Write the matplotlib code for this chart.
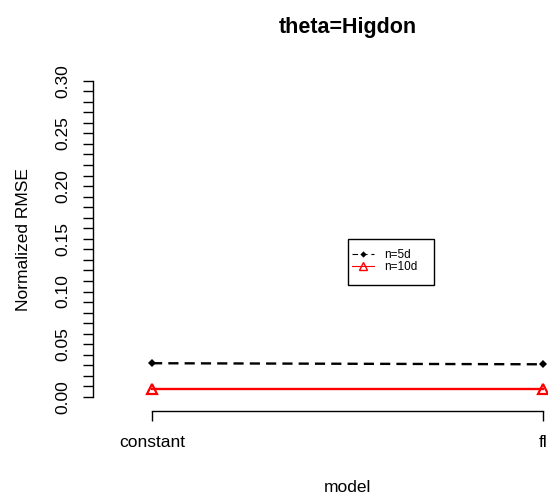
import numpy as np
import matplotlib
matplotlib.use("Agg")
import matplotlib.pyplot as plt
import matplotlib.transforms as mtransforms
from matplotlib.patches import Rectangle
from matplotlib.lines import Line2D

plt.rcParams['font.family'] = ['Liberation Sans', 'DejaVu Sans']

# Data
models = ["constant", "fl"]
rmse_n5d = [0.032, 0.031]
rmse_n10d = [0.008, 0.008]
series_labels = ["n=5d", "n=10d"]
ytick_values = [round(v, 2) for v in np.arange(0.0, 0.305, 0.01)]
ytick_labels = ["0.00", "0.05", "0.10", "0.15", "0.20", "0.25", "0.30"]

W, H, DPI = 548, 498, 100
fig = plt.figure(figsize=(W / DPI, H / DPI), dpi=DPI)
fig.patch.set_facecolor("white")

# plot region (extends past the right edge of the figure)
left, right, top, bottom = 93, 602, 68, 411
ax = fig.add_axes([left / W, 1 - bottom / H, (right - left) / W, (bottom - top) / H])
ax.set_facecolor("none")

x = np.arange(1, len(models) + 1)
ax.plot(x, rmse_n5d, color="black", lw=1.7, ls=(0, (4.3, 2.6)),
        marker="D", ms=4.2, mew=0, mfc="black", clip_on=False)
ax.plot(x, rmse_n10d, color="#ff0000", lw=1.7, ls="-",
        marker="^", ms=6.8, mew=1.6, mfc="none", mec="#ff0000",
        clip_on=False)

ax.set_xlim(0.849, 2.151)
ax.set_ylim(-0.0133, 0.312)

for s in ["top", "right"]:
    ax.spines[s].set_visible(False)
for s in ["left", "bottom"]:
    ax.spines[s].set_linewidth(1.0)
ax.spines["bottom"].set_bounds(1, 2)
ax.spines["left"].set_bounds(0, 0.30)

ax.set_xticks(x)
ax.set_xticklabels(models, fontsize=12.5)
ax.set_yticks(ytick_values)
labels = []
for v in ytick_values:
    s = f"{v:.2f}"
    labels.append(s if s in ytick_labels else "")
ax.set_yticklabels(labels, fontsize=12.5, rotation=90, va="center")
ax.tick_params(axis="both", direction="out", length=7, width=1.0, colors="black")
ax.tick_params(axis="y", pad=9)
ax.tick_params(axis="x", pad=10)

ax.set_xlabel("model", fontsize=12.5, labelpad=22)
ax.set_ylabel("Normalized RMSE", fontsize=12.5, labelpad=18)
ax.set_title("theta=Higdon", fontsize=15.5, fontweight="bold", pad=25)

# legend keys use thin lines and small symbols
handles = [
    Line2D([], [], color="black", lw=0.8, ls=(0, (5, 3.5)),
           marker="D", ms=3.2, mew=0, mfc="black"),
    Line2D([], [], color="#ff0000", lw=0.8, ls="-",
           marker="^", ms=5.2, mew=1.0, mfc="none", mec="#ff0000"),
]

# legend anchored at (1.5, 0.15) in data units, R-style box padding
pad_l, pad_r, pad_t, pad_b = 4, 16, 10, 12   # pixels
anchor = ax.transData + mtransforms.ScaledTranslation(pad_l / DPI, -pad_t / DPI,
                                                      fig.dpi_scale_trans)
leg = ax.legend(handles, series_labels, loc="upper left", bbox_to_anchor=(1.5, 0.15),
                bbox_transform=anchor, borderaxespad=0, borderpad=0,
                fontsize=8.5, frameon=False,
                handlelength=1.9, handletextpad=0.9,
                labelspacing=0.0)
fig.canvas.draw()
bb = leg.get_window_extent()
frame = Rectangle(((bb.x0 - pad_l) / W, (bb.y0 - pad_b) / H),
                  (bb.width + pad_l + pad_r) / W,
                  (bb.height + pad_t + pad_b) / H,
                  transform=fig.transFigure, fill=False,
                  edgecolor="black", linewidth=1.0, zorder=5)
fig.add_artist(frame)

fig.savefig("out.png", dpi=DPI, facecolor="white")
